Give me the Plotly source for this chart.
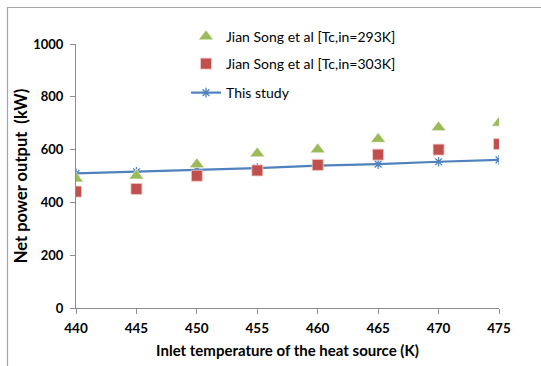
import plotly.graph_objects as go

temps = [440, 445, 450, 455, 460, 465, 470, 475]
song_293 = [490, 501, 544, 585, 600, 640, 684, 701]
song_303 = [441, 451, 501, 521, 542, 581, 600, 621]
this_study = [510, 516, 524, 530, 539, 545, 554, 561]

font_family = "Lato, 'Open Sans', sans-serif"

W, H = 541, 366
L, R, T, B = 76, 42, 44, 58
PW, PH = W - L - R, H - T - B

def px_x(x):
    return (x - L) / PW

def px_y(y):
    return (H - B - y) / PH

fig = go.Figure()
fig.add_trace(go.Scatter(
    x=temps, y=this_study, name="This study", mode="lines+markers",
    line=dict(color="#4F81BD", width=2.2),
    marker=dict(symbol="asterisk-open", size=8, color="#4F81BD", line=dict(width=1.3, color="#4F81BD")),
    legend="legend3",
))
fig.add_trace(go.Scatter(
    x=temps, y=song_293, name="Jian Song et al [Tc,in=293K]", mode="markers",
    marker=dict(symbol="triangle-up", size=13, color="#9BBB59", line=dict(width=0.6, color="#ffffff")),
    legend="legend",
))
fig.add_trace(go.Scatter(
    x=temps, y=song_303, name="Jian Song et al [Tc,in=303K]", mode="markers",
    marker=dict(symbol="square", size=11, color="#C0504D", line=dict(width=0.8, color="#F2C9C8")),
    legend="legend2",
))

leg_common = dict(xanchor="left", yanchor="middle", bgcolor="rgba(0,0,0,0)",
                  font=dict(size=14, family=font_family, color="#000000"), itemwidth=30)
lx = px_x(186)

fig.update_layout(
    width=W, height=H,
    margin=dict(l=L, r=R, t=T, b=B),
    paper_bgcolor="white", plot_bgcolor="white",
    font=dict(family=font_family, size=13, color="#000000"),
    showlegend=True,
    legend=dict(x=lx, y=px_y(37), **leg_common),
    legend2=dict(x=lx, y=px_y(64), **leg_common),
    legend3=dict(x=lx, y=px_y(93), **leg_common),
    shapes=[
        dict(type="line", xref="paper", yref="paper", x0=px_x(7), x1=px_x(541),
             y0=px_y(7.5), y1=px_y(7.5), line=dict(color="#A6A6A6", width=1.2)),
        dict(type="line", xref="paper", yref="paper", x0=px_x(7.5), x1=px_x(7.5),
             y0=px_y(7), y1=px_y(366), line=dict(color="#A6A6A6", width=1.2)),
    ],
)
fig.update_xaxes(
    range=[440, 475], tickvals=temps, ticktext=[str(t) for t in temps],
    showgrid=False, zeroline=False, showline=True, linecolor="#8C8C8C", linewidth=1,
    ticks="outside", ticklen=5, tickcolor="#8C8C8C", ticklabelstandoff=3,
    tickfont=dict(size=13.5, family=font_family, weight="bold"),
    title=dict(text="Inlet temperature of the heat source (K)", standoff=10,
               font=dict(size=15, family=font_family, weight="bold")),
    automargin=False,
)
fig.update_yaxes(
    range=[0, 1000], tickvals=[0, 200, 400, 600, 800, 1000],
    showgrid=False, zeroline=False, showline=True, linecolor="#8C8C8C", linewidth=1,
    ticks="outside", ticklen=5, tickcolor="#8C8C8C", ticklabelstandoff=4,
    tickfont=dict(size=13, family=font_family, weight="bold"),
    title=dict(text="Net power output  (kW)", standoff=1,
               font=dict(size=16.5, family=font_family, weight="bold")),
    automargin=False,
)

fig.write_html("out.html", config={"displayModeBar": False},
               post_script="document.body.style.margin='0';document.body.style.overflow='hidden';")
